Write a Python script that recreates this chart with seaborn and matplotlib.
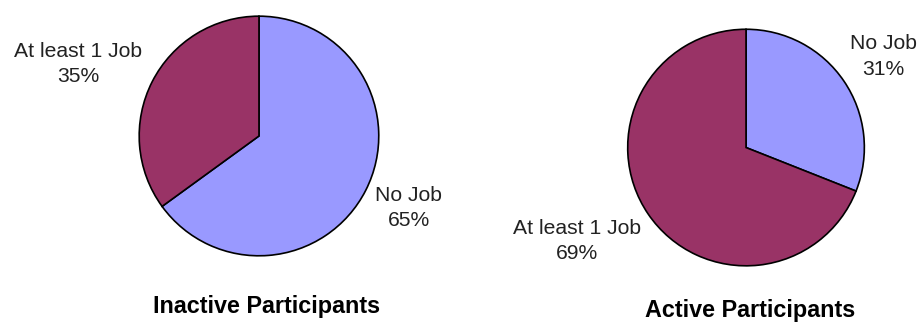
import matplotlib
matplotlib.use("Agg")
import matplotlib.pyplot as plt
import seaborn as sns

# Share of participants by job count
categories = ["No Job", "At least 1 Job"]
inactive_pct = [65, 35]
active_pct = [31, 69]
titles = ["Inactive Participants", "Active Participants"]

sns.set_theme(style="white")
plt.rcParams["font.family"] = ["Liberation Sans", "DejaVu Sans"]

colors = ["#9999FF", "#993366"]

fig = plt.figure(figsize=(9.2, 3.22), dpi=100)
fig.patch.set_facecolor("white")

# axes boxes (figure fractions) and label offsets in radius units
panels = [
    dict(box=[0.150, 0.2019, 0.263, 0.7516], values=inactive_pct,
         label_pos=[(1.25, -0.60), (-1.51, 0.60)],
         title_xy=(267 / 920, 1 - 306 / 322)),
    dict(box=[0.681, 0.1708, 0.2598, 0.742], values=active_pct,
         label_pos=[(1.16, 0.77), (-1.43, -0.79)],
         title_xy=(750 / 920, 1 - 310 / 322)),
]

for panel, title in zip(panels, titles):
    ax = fig.add_axes(panel["box"])
    ax.pie(panel["values"], colors=colors, startangle=90, counterclock=False,
           radius=1.0,
           wedgeprops=dict(edgecolor="black", linewidth=1.2))
    ax.set_xlim(-1.01, 1.01)
    ax.set_ylim(-1.01, 1.01)
    ax.set_aspect("auto")
    ax.axis("off")
    for cat, val, (lx, ly) in zip(categories, panel["values"], panel["label_pos"]):
        ax.text(lx, ly, f"{cat}\n{val}%", ha="center", va="center",
                fontsize=15.2, color="#222222", linespacing=1.42,
                clip_on=False)
    fig.text(panel["title_xy"][0], panel["title_xy"][1], title,
             ha="center", va="center", fontsize=16.8, fontweight="bold",
             color="black")

fig.savefig("out.png", dpi=100, facecolor="white")
